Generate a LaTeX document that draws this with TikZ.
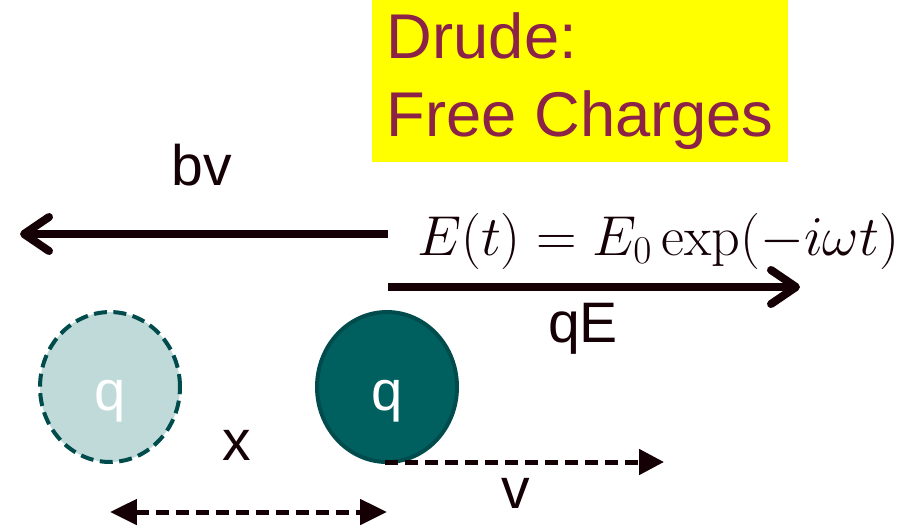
\RequirePackage{fix-cm}
\documentclass[tikz,border=0pt]{standalone}
\usepackage[no-math]{fontspec}
\setmainfont{Liberation Sans}
\usepackage{amsmath}
\usetikzlibrary{shapes.geometric, arrows.meta, positioning, calc}
\definecolor{mymaroon}{RGB}{140,34,72}
\definecolor{myyellow}{RGB}{255,255,0}
\definecolor{myink}{RGB}{20,0,5}
\definecolor{mydeep}{RGB}{0,96,96}
\definecolor{myrim}{RGB}{0,76,76}
\definecolor{mypale}{RGB}{192,218,218}
\tikzset{
  titlebox/.style={rectangle, fill=myyellow, text=mymaroon, align=left,
    minimum width=8.32cm, minimum height=3.24cm, inner sep=0pt,
    font=\fontsize{36}{44.4}\selectfont},
  charge/.style={ellipse, draw=myrim, line width=0.08cm,
    minimum width=2.8cm, minimum height=3.0cm, inner sep=0pt},
  lbl/.style={font=\fontsize{32.5}{36}\selectfont, text=myink, inner sep=0pt, anchor=base},
  qtext/.style={font=\fontsize{32}{36}\selectfont, text=white, inner sep=0pt, anchor=base},
  force/.style={line width=0.16cm, color=myink, -{Straight Barb[length=0.5cm, width=0.68cm, round]}},
  motion/.style={line width=0.1cm, color=myink, dash pattern=on 0.26cm off 0.14cm,
    -{Triangle[length=0.5cm, width=0.5cm]}},
  disp/.style={motion, {Triangle[length=0.54cm, width=0.5cm]}-{Triangle[length=0.54cm, width=0.5cm]}}
}
\begin{document}
\begin{tikzpicture}[x=0.02cm, y=-0.02cm]
\useasboundingbox (0,0) rectangle (912,529);
\node[titlebox, anchor=north west] (title) at (372,0) {Drude:\\Free Charges};

% charges
\node[charge, fill=mypale, dash pattern=on 0.26cm off 0.13cm] (chargeL) at (110,387) {};
\node[charge, fill=mydeep] (chargeR) at (387,387) {};
\node[qtext] (qL) at (110,410) {q};
\node[qtext] (qR) at (387,410) {q};

% forces
\coordinate (bvtail) at (388,234);
\coordinate (bvtip) at (20,234);
\coordinate (qEtail) at (388,287);
\coordinate (qEtip) at (800,287);
\draw[force] (bvtail) -- (bvtip);
\draw[force] (qEtail) -- (qEtip);
\node[lbl] (bv) at (202,185) {bv};
\node[lbl] (qE) at (583,342) {qE};
\node[anchor=base, inner sep=0pt, text=myink, font=\fontsize{32}{36}\selectfont] (field) at (658,255)
  {$E(t) = E_0 \exp(-i\omega t)$};

% motion
\coordinate (vtail) at (385,462);
\coordinate (vtip) at (664,462);
\coordinate (xline) at (0,512);
\draw[motion] (vtail) -- (vtip);
\draw[disp] (chargeL.center |- xline) -- (chargeR.center |- xline);
\node[lbl] (v) at (516,508) {v};
\node[lbl] (x) at (237,460) {x};
\end{tikzpicture}
\end{document}
